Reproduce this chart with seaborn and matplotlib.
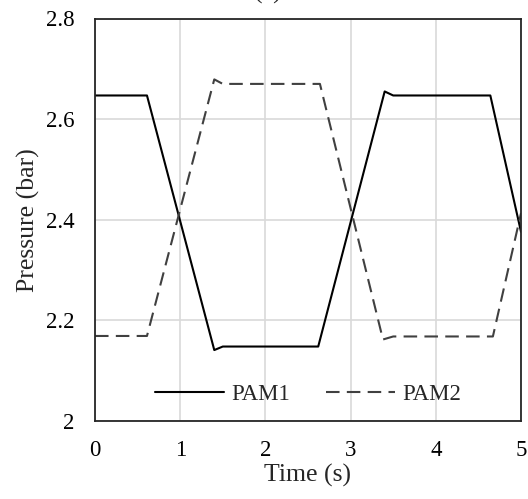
import matplotlib
matplotlib.use("Agg")
import matplotlib.pyplot as plt
import seaborn as sns
import pandas as pd

# Data
pam1_time = [0.0, 0.61, 1.40, 1.50, 2.62, 3.40, 3.50, 4.64, 5.0]
pam1_pressure = [2.647, 2.647, 2.141, 2.148, 2.148, 2.655, 2.647, 2.647, 2.376]
pam2_time = [0.0, 0.61, 1.40, 1.50, 2.64, 3.38, 3.50, 4.67, 5.0]
pam2_pressure = [2.169, 2.169, 2.679, 2.670, 2.670, 2.162, 2.168, 2.168, 2.413]
series_names = ["PAM1", "PAM2"]
x_ticks = [0, 1, 2, 3, 4, 5]
y_ticks = [2.0, 2.2, 2.4, 2.6, 2.8]
y_tick_labels = ["2", "2.2", "2.4", "2.6", "2.8"]

sns.set_style("white")
plt.rcParams["font.family"] = ["Liberation Serif", "DejaVu Serif"]
plt.rcParams["font.size"] = 16

df = pd.concat([
    pd.DataFrame({"Time": pam1_time, "Pressure": pam1_pressure, "Series": series_names[0]}),
    pd.DataFrame({"Time": pam2_time, "Pressure": pam2_pressure, "Series": series_names[1]}),
])

fig = plt.figure(figsize=(5.28, 4.99), dpi=100)
ax = fig.add_axes([95 / 528, 1 - 421 / 499, (521 - 95) / 528, (421 - 18.5) / 499])

sns.lineplot(data=df[df.Series == "PAM1"], x="Time", y="Pressure", ax=ax,
             color="black", linewidth=1.5, label="PAM1", sort=False)
sns.lineplot(data=df[df.Series == "PAM2"], x="Time", y="Pressure", ax=ax,
             color="#404040", linewidth=1.5, dashes=False, label="PAM2", sort=False)
ax.lines[1].set_linestyle((0, (6.5, 3.5)))

ax.set_xlim(0, 5)
ax.set_ylim(2.0, 2.8)
ax.set_xticks(x_ticks)
ax.set_xticklabels([str(t) for t in x_ticks])
ax.set_yticks(y_ticks)
ax.set_yticklabels(y_tick_labels)
ax.grid(True, color="#d9d9d9", linewidth=1.2)
ax.set_axisbelow(True)
for s in ax.spines.values():
    s.set_color("#262626")
    s.set_linewidth(1.3)
ax.tick_params(axis="both", length=0, labelsize=16.5, colors="black")
ax.tick_params(axis="x", pad=14)
ax.tick_params(axis="y", pad=15)
ax.set_xlabel("Time (s)", fontsize=18.5, labelpad=2)
ax.set_ylabel("Pressure (bar)", fontsize=18.5, labelpad=4)

handles, labels = ax.get_legend_handles_labels()
handles[1].set_linestyle((0, (6.5, 3.5)))
ax.legend(handles, labels, loc="center", bbox_to_anchor=(0.5, 0.065), ncol=2,
          frameon=False, fontsize=16.5, handlelength=3.0, handletextpad=0.3,
          columnspacing=1.6, borderaxespad=0)

fig.text(0.508, 1.0 + 1.0 / 499, "(a)", ha="center", va="baseline", fontsize=18.5)

fig.savefig("out.png", dpi=100)
